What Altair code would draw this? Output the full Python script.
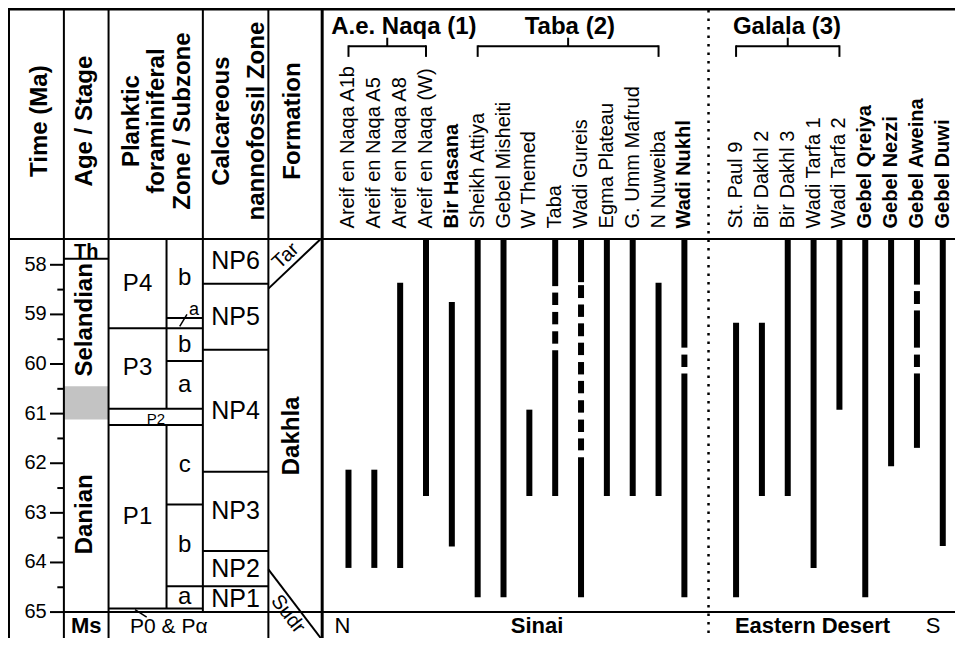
import altair as alt
import pandas as pd

# ------------------------------------------------------------------ data (Ma)
TICK_MAJOR = [58, 59, 60, 61, 62, 63, 64, 65]
TICK_MINOR = [58.5, 59.5, 60.5, 61.5, 62.5, 63.5, 64.5]
TOP_MA = 57.48
KPG_MA = 65.0

TH_BASE = 57.88
STAGE_GAP = [60.45, 61.12]

PF_ZONES = ["P4", "P3", "P1"]
PF_TOP = [57.48, 59.28, 61.23]
PF_BASE = [59.28, 60.90, 64.93]
P2_RANGE = [60.90, 61.23]

PF_SUB = ["b", "b", "a", "c", "b", "a"]
PF_SUB_TOP = [57.48, 59.28, 59.94, 61.23, 62.83, 64.48]
PF_SUB_BASE = [59.07, 59.94, 60.90, 62.83, 64.48, 64.93]
P4A_RANGE = [59.07, 59.28]

NP_ZONES = ["NP6", "NP5", "NP4", "NP3", "NP2", "NP1"]
NP_TOP = [57.48, 58.38, 59.71, 62.17, 63.77, 64.48]
NP_BASE = [58.38, 59.71, 62.17, 63.77, 64.48, 65.0]

TAR_BASE = 58.48
SUDR_TOP = 64.14

SECTIONS = ["Areif en Naqa A1b", "Areif en Naqa A5", "Areif en Naqa A8", "Areif en Naqa (W)",
            "Bir Hasana", "Sheikh Attiya", "Gebel Misheiti", "W Themed", "Taba", "Wadi Gureis",
            "Egma Plateau", "G. Umm Mafrud", "N Nuweiba", "Wadi Nukhl",
            "St. Paul 9", "Bir Dakhl 2", "Bir Dakhl 3", "Wadi Tarfa 1", "Wadi Tarfa 2",
            "Gebel Qreiya", "Gebel Nezzi", "Gebel Aweina", "Gebel Duwi"]
BOLD = ["Bir Hasana", "Wadi Nukhl", "Gebel Qreiya", "Gebel Nezzi", "Gebel Aweina", "Gebel Duwi"]
SLOTS = [0, 1, 2, 3, 4, 5, 6, 7, 8, 9, 10, 11, 12, 13, 15, 16, 17, 18, 19, 20, 21, 22, 23]
RANGES = [
    [(62.13, 64.11)],
    [(62.13, 64.11)],
    [(58.36, 64.11)],
    [(57.48, 62.66)],
    [(58.75, 63.68)],
    [(57.48, 64.70)],
    [(57.48, 64.70)],
    [(60.92, 62.66)],
    [(57.48, 58.43), (58.56, 58.81), (58.95, 59.20), (59.34, 59.59), (59.72, 62.66)],
    [(57.48, 58.35), (58.41, 58.67), (58.80, 59.05), (59.18, 59.44), (59.57, 59.82),
     (59.96, 60.21), (60.34, 60.59), (60.73, 60.98), (61.12, 61.37), (61.50, 61.74),
     (61.88, 64.70)],
    [(57.48, 62.66)],
    [(57.48, 62.66)],
    [(58.36, 62.66)],
    [(57.48, 59.67), (59.81, 60.06), (60.19, 64.70)],
    [(59.17, 64.70)],
    [(59.17, 62.66)],
    [(57.48, 62.66)],
    [(57.48, 64.11)],
    [(57.48, 60.92)],
    [(57.48, 64.70)],
    [(57.48, 62.06)],
    [(57.48, 58.40), (58.53, 58.79), (58.92, 59.67), (59.81, 60.06), (60.19, 61.69)],
    [(57.48, 63.67)],
]
GROUPS = ["A.e. Naqa (1)", "Taba (2)", "Galala (3)"]
GROUP_FIRST = [0, 5, 14]
GROUP_LAST = [3, 12, 18]
HEADERS = ["Time (Ma)", "Age / Stage", "Planktic", "foraminiferal", "Zone / Subzone",
           "Calcareous", "nannofossil Zone", "Formation"]
REGIONS = ["N", "Sinai", "Eastern Desert", "S"]
REGION_BOLD = [False, True, True, False]

# ------------------------------------------------------------------ layout
FONT = "Liberation Sans, Arial, Helvetica, sans-serif"
W, H = 947, 630
HEAD_H = 231
PX_PER_MA = 49.61
X_LEFT, X_END = 7.0, 961.0
Y_END = TOP_MA + (H - HEAD_H) / PX_PER_MA
C_TIME, C_AGE, C_PSUB, C_PF, C_NP, C_FM = 63.3, 108.3, 166.7, 203.3, 269.3, 323.5
X0, STEP = 350.0, 26.03
DOT_X = 712.7
GROUP_LABEL_X = [405.8, 573.0, 791.7]
HEADER_X = [39.7, 84.5, 132.0, 157.0, 183.0, 223.0, 257.5, 294.0]
REGION_X = [344.0, 540.0, 817.5, 939.0]
BOTTOM_TEXT_MA = 65.42


def hy(ref):
    return (ref - 5.0) * HEAD_H / 241.0


XS = alt.Scale(domain=[X_LEFT, X_END], range=[0, W], nice=False, zero=False)
YS = alt.Scale(domain=[TOP_MA, Y_END], range=[HEAD_H, H], nice=False, zero=False)


def xq(f):
    return alt.X(f, type="quantitative", scale=XS, axis=None)


def yq(f):
    return alt.Y(f, type="quantitative", scale=YS, axis=None)


def hrules(rows, width=2.0):
    df = pd.DataFrame(rows, columns=["x", "x2", "ma"])
    return alt.Chart(df).mark_rule(strokeWidth=width, color="black").encode(
        x=xq("x"), x2=alt.X2("x2"), y=yq("ma"))


def vrules(rows, width=2.0):
    df = pd.DataFrame(rows, columns=["x", "ma", "ma2"])
    return alt.Chart(df).mark_rule(strokeWidth=width, color="black").encode(
        x=xq("x"), y=yq("ma"), y2=alt.Y2("ma2"))


def texts(rows, size, bold=False, angle=0, align="center", baseline="middle", yval=None):
    mk = dict(fontSize=size, font=FONT, fontWeight="bold" if bold else "normal",
              align=align, baseline=baseline, color="black")
    if angle:
        mk["angle"] = angle
    if yval is None:
        df = pd.DataFrame(rows, columns=["x", "ma", "t"])
        enc = dict(x=xq("x"), y=yq("ma"), text=alt.Text("t:N"))
    else:
        df = pd.DataFrame(rows, columns=["x", "t"])
        enc = dict(x=xq("x"), y=alt.value(yval), text=alt.Text("t:N"))
    return alt.Chart(df).mark_text(**mk).encode(**enc)


layers = []

# grey box in stage column
gap_df = pd.DataFrame([{"x": C_TIME, "x2": C_AGE, "ma": STAGE_GAP[0], "ma2": STAGE_GAP[1]}])
layers.append(alt.Chart(gap_df).mark_rect(color="#c3c3c3").encode(
    x=xq("x"), x2=alt.X2("x2"), y=yq("ma"), y2=alt.Y2("ma2")))

# ---- frame: header part
head_v = pd.DataFrame({"x": [X_LEFT + 1, C_TIME, C_AGE, C_PF, C_NP]})
layers.append(alt.Chart(head_v).mark_rule(strokeWidth=2, color="black").encode(
    x=xq("x"), y=alt.value(0), y2=alt.value(HEAD_H)))
layers.append(alt.Chart(pd.DataFrame({"x": [C_FM]})).mark_rule(strokeWidth=3, color="black").encode(
    x=xq("x"), y=alt.value(0), y2=alt.value(HEAD_H)))
layers.append(alt.Chart(pd.DataFrame({"x": [X_LEFT], "x2": [X_END]})).mark_rule(
    strokeWidth=2.5, color="black").encode(x=xq("x"), x2=alt.X2("x2"), y=alt.value(1.2)))
# dotted separator
layers.append(alt.Chart(pd.DataFrame({"x": [DOT_X]})).mark_rule(
    strokeWidth=2.5, color="black", strokeDash=[2.5, 6]).encode(
    x=xq("x"), y=alt.value(2), y2=alt.value(H)))

# ---- frame: body part
h_rows = [(X_LEFT, X_END, TOP_MA), (C_TIME, X_END, KPG_MA), (C_TIME, C_AGE, TH_BASE)]
for b in [PF_BASE[0], P2_RANGE[0], P2_RANGE[1], PF_BASE[2]]:
    h_rows.append((C_AGE, C_PF, b))
for b in [P4A_RANGE[0], PF_SUB_BASE[1], PF_SUB_BASE[3], PF_SUB_BASE[4]]:
    h_rows.append((C_PSUB, C_PF, b))
for b in NP_BASE[:-1]:
    h_rows.append((C_PF, C_NP, b))
layers.append(hrules(h_rows))

v_rows = [(X_LEFT + 1, TOP_MA, Y_END), (C_TIME, TOP_MA, Y_END), (C_AGE, TOP_MA, Y_END),
          (C_NP, TOP_MA, Y_END), (C_PF, TOP_MA, KPG_MA),
          (C_PSUB, TOP_MA, P2_RANGE[0]), (C_PSUB, P2_RANGE[1], PF_BASE[2])]
layers.append(vrules(v_rows))
layers.append(vrules([(C_FM, TOP_MA, Y_END)], width=3))

# formation wedges
diag = pd.DataFrame([
    {"x": C_NP, "ma": TAR_BASE, "x2": C_FM - 1.5, "ma2": TOP_MA},
    {"x": C_NP, "ma": SUDR_TOP, "x2": C_FM - 1.5, "ma2": Y_END},
])
layers.append(alt.Chart(diag).mark_rule(strokeWidth=2, color="black").encode(
    x=xq("x"), y=yq("ma"), x2=alt.X2("x2"), y2=alt.Y2("ma2")))

# leader lines
lead = pd.DataFrame([
    {"x": 180.0, "ma": 59.24, "x2": 187.3, "ma2": 59.00},
    {"x": 135.0, "ma": 64.95, "x2": 146.7, "ma2": 65.10},
])
layers.append(alt.Chart(lead).mark_rule(strokeWidth=1.5, color="black").encode(
    x=xq("x"), y=yq("ma"), x2=alt.X2("x2"), y2=alt.Y2("ma2")))

# ticks
layers.append(hrules([(49.3, C_TIME, t) for t in TICK_MAJOR]))
layers.append(hrules([(56.7, C_TIME, t) for t in TICK_MINOR]))
layers.append(texts([(46.0, t, str(t)) for t in TICK_MAJOR], 20, align="right"))

# ---- section bars
bar_rows = []
for name, slot, rngs in zip(SECTIONS, SLOTS, RANGES):
    for top, base in rngs:
        bar_rows.append({"x": X0 + STEP * slot, "ma": top, "ma2": base, "name": name})
bars = pd.DataFrame(bar_rows)
layers.append(alt.Chart(bars).mark_rule(strokeWidth=6, color="black", strokeCap="butt").encode(
    x=xq("x"), y=yq("ma"), y2=alt.Y2("ma2")))

# ---- section labels
lab_n = [(X0 + STEP * s, n) for n, s in zip(SECTIONS, SLOTS) if n not in BOLD]
lab_b = [(X0 + STEP * s, n) for n, s in zip(SECTIONS, SLOTS) if n in BOLD]
layers.append(texts(lab_n, 20, angle=270, align="left", yval=hy(235)))
layers.append(texts(lab_b, 20, bold=True, angle=270, align="left", yval=hy(235)))

# ---- group brackets
bh, leg, tick = [], [], []
for f, l in zip(GROUP_FIRST, GROUP_LAST):
    xa, xb = X0 + STEP * SLOTS[f], X0 + STEP * SLOTS[l]
    bh.append({"x": xa, "x2": xb})
    leg.append({"x": xa})
    leg.append({"x": xb})
    tick.append({"x": (xa + xb) / 2})
layers.append(alt.Chart(pd.DataFrame(bh)).mark_rule(strokeWidth=2, color="black").encode(
    x=xq("x"), x2=alt.X2("x2"), y=alt.value(hy(45))))
layers.append(alt.Chart(pd.DataFrame(leg)).mark_rule(strokeWidth=2, color="black").encode(
    x=xq("x"), y=alt.value(hy(45) - 1), y2=alt.value(hy(56))))
layers.append(alt.Chart(pd.DataFrame(tick)).mark_rule(strokeWidth=2, color="black").encode(
    x=xq("x"), y=alt.value(hy(36)), y2=alt.value(hy(45))))
layers.append(texts(list(zip(GROUP_LABEL_X, GROUPS)), 24, bold=True,
                    baseline="alphabetic", yval=hy(32)))

# ---- column headers
layers.append(texts(list(zip(HEADER_X, HEADERS)), 24, bold=True, angle=270, yval=hy(123)))

# ---- stage labels
layers.append(texts([(85.8, 57.86, "Th")], 20, bold=True, baseline="alphabetic"))
layers.append(texts([(84.5, 59.11, "Selandian"), (84.5, 63.03, "Danian")], 24, bold=True, angle=270))
layers.append(texts([(85.8, BOTTOM_TEXT_MA, "Ms")], 22, bold=True, baseline="alphabetic"))

# ---- planktic foraminiferal zones
pf_x = (C_AGE + C_PSUB) / 2
sub_x = (C_PSUB + C_PF) / 2
layers.append(texts([(pf_x, (a + b) / 2, n) for n, a, b in zip(PF_ZONES, PF_TOP, PF_BASE)], 24))
layers.append(texts([(sub_x, (a + b) / 2, n) for n, a, b in zip(PF_SUB, PF_SUB_TOP, PF_SUB_BASE)], 24))
layers.append(texts([(156.0, 61.20, "P2")], 15, baseline="alphabetic"))
layers.append(texts([(194.5, 59.01, "a")], 18, baseline="alphabetic"))
layers.append(texts([(169.0, BOTTOM_TEXT_MA, "P0 & P\u03b1")], 21, baseline="alphabetic"))

# ---- nannofossil zones
np_x = (C_PF + C_NP) / 2
layers.append(texts([(np_x, (a + b) / 2, n) for n, a, b in zip(NP_ZONES, NP_TOP, NP_BASE)], 25))

# ---- formations
layers.append(texts([(286.7, 57.82, "Tar")], 20, angle=317))
layers.append(texts([(293.3, 61.45, "Dakhla")], 24, bold=True, angle=270))
layers.append(texts([(289.0, 65.04, "Sudr")], 20, angle=52))

# ---- regions
layers.append(texts([(x, BOTTOM_TEXT_MA, t) for x, t, b in zip(REGION_X, REGIONS, REGION_BOLD) if not b], 22,
                    baseline="alphabetic"))
layers.append(texts([(x, BOTTOM_TEXT_MA, t) for x, t, b in zip(REGION_X, REGIONS, REGION_BOLD) if b], 22,
                    bold=True, baseline="alphabetic"))

chart = alt.layer(*layers).properties(
    width=W, height=H, padding=0, autosize=alt.AutoSizeParams(type="none"),
    background="white",
).configure_view(stroke=None)

chart.save("out.html", embed_options={"renderer": "svg", "actions": False})
